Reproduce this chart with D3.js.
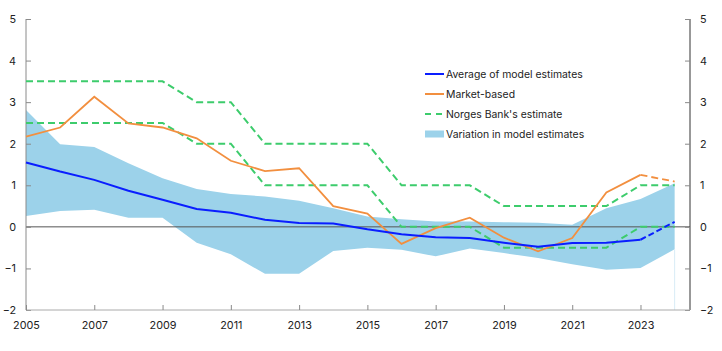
<!DOCTYPE html>
<html>
<head>
<meta charset="utf-8">
<script src="https://cdn.jsdelivr.net/npm/d3@7"></script>
<style>
  body { margin: 0; background: #fff; }
  text { font-family: Inter, "Noto Sans", sans-serif; }
</style>
</head>
<body>
<div id="wrapper"></div>
<script>
/// Data ///
const years = d3.range(2005, 2025);
const modelAvg = [1.55, 1.33, 1.13, 0.87, 0.65, 0.43, 0.34, 0.17, 0.09, 0.08, -0.06, -0.18, -0.25, -0.27, -0.38, -0.48, -0.39, -0.38, -0.31, 0.12];
const market = [2.17, 2.39, 3.13, 2.49, 2.39, 2.13, 1.59, 1.34, 1.41, 0.50, 0.32, -0.41, -0.03, 0.22, -0.26, -0.59, -0.27, 0.83, 1.25, 1.09];
const nbUpper = [3.5, 3.5, 3.5, 3.5, 3.5, 3.0, 3.0, 2.0, 2.0, 2.0, 2.0, 1.0, 1.0, 1.0, 0.5, 0.5, 0.5, 0.5, 1.0, 1.0];
const nbLower = [2.5, 2.5, 2.5, 2.5, 2.5, 2.0, 2.0, 1.0, 1.0, 1.0, 1.0, 0.0, 0.0, 0.0, -0.5, -0.5, -0.5, -0.5, 0.0, 0.0];
const bandUpper = [2.81, 1.99, 1.92, 1.53, 1.17, 0.91, 0.79, 0.73, 0.63, 0.45, 0.25, 0.18, 0.13, 0.13, 0.11, 0.10, 0.05, 0.45, 0.67, 1.05];
const bandLower = [0.26, 0.38, 0.41, 0.22, 0.22, -0.38, -0.66, -1.13, -1.13, -0.58, -0.50, -0.55, -0.71, -0.52, -0.63, -0.75, -0.90, -1.03, -0.99, -0.54];
const yTicks = [-2, -1, 0, 1, 2, 3, 4, 5];
const xTicks = [2005, 2007, 2009, 2011, 2013, 2015, 2017, 2019, 2021, 2023];
const legendItems = ["Average of model estimates", "Market-based", "Norges Bank's estimate", "Variation in model estimates"];

/// Dimensions ///
const width = 722;
const height = 351;
const margin = { top: 19, right: 32, bottom: 41, left: 26 };

const colBlue = '#0a1eff';
const colOrange = '#f28f3f';
const colGreen = '#3dcc6c';
const colBand = '#9cd2ea';
const colAxis = '#8a8a8a';

const svg = d3.select("#wrapper").append("svg")
  .attr("width", width)
  .attr("height", height);

/// Scales ///
const x = d3.scaleLinear()
  .domain([2005, 2024.45])
  .range([margin.left, width - margin.right]);
const y = d3.scaleLinear()
  .domain([-2, 5])
  .range([height - margin.bottom, margin.top]);

const rows = years.map((yr, i) => ({
  year: yr, avg: modelAvg[i], mkt: market[i], up: nbUpper[i], lo: nbLower[i],
  bu: bandUpper[i], bl: bandLower[i]
}));

/// Band ///
svg.append("path")
  .datum(rows)
  .attr("fill", colBand)
  .attr("d", d3.area().x(d => x(d.year)).y0(d => y(d.bl)).y1(d => y(d.bu)));

// faint edge at the end of the band
svg.append("line")
  .attr("x1", x(2024)).attr("x2", x(2024))
  .attr("y1", y(bandLower[bandLower.length - 1])).attr("y2", y(-2))
  .attr("stroke", "#d8ecf6").attr("stroke-width", 1);

/// Zero line ///
svg.append("line")
  .attr("x1", x(2005)).attr("x2", width - margin.right)
  .attr("y1", y(0)).attr("y2", y(0))
  .attr("stroke", "#555").attr("stroke-width", 1);

/// Axes ///
const leftAxis = svg.append("g")
  .attr("transform", `translate(${margin.left},0)`)
  .call(d3.axisLeft(y).tickValues(yTicks).tickSize(-5).tickPadding(10).tickFormat(d3.format("d")));
const rightAxis = svg.append("g")
  .attr("transform", `translate(${width - margin.right},0)`)
  .call(d3.axisRight(y).tickValues(yTicks).tickSize(-5).tickPadding(10).tickFormat(d3.format("d")));
const bottomAxis = svg.append("g")
  .attr("transform", `translate(0,${height - margin.bottom})`)
  .call(d3.axisBottom(x).tickValues(xTicks).tickSize(-5).tickPadding(11).tickFormat(d3.format("d")));

[leftAxis, rightAxis, bottomAxis].forEach(g => {
  g.select(".domain").attr("stroke", colAxis);
  g.selectAll(".tick line").attr("stroke", colAxis);
  g.selectAll("text").attr("font-size", 10.8).attr("fill", "#222");
});
leftAxis.select(".domain").attr("d", `M0,${y(5)}V${y(-2)}`);
rightAxis.select(".domain").attr("d", `M0,${y(5)}V${y(-2)}`).attr("stroke", "#333");
bottomAxis.select(".domain").attr("d", `M${margin.left},0H${width - margin.right}`).attr("stroke", "#aaa");
rightAxis.selectAll("text").attr("text-anchor", "start");

/// Lines ///
const lineGen = key => d3.line().x(d => x(d.year)).y(d => y(d[key]));

// Norges Bank's estimate
["up", "lo"].forEach(k => {
  svg.append("path")
    .datum(rows)
    .attr("fill", "none")
    .attr("stroke", colGreen)
    .attr("stroke-width", 2)
    .attr("stroke-dasharray", "7,4")
    .attr("d", lineGen(k));
});

const solid = rows.filter(d => d.year <= 2023);
const tail = rows.filter(d => d.year >= 2023);

// Market-based
svg.append("path").datum(solid)
  .attr("fill", "none").attr("stroke", colOrange).attr("stroke-width", 1.8)
  .attr("d", lineGen("mkt"));
svg.append("path").datum(tail)
  .attr("fill", "none").attr("stroke", colOrange).attr("stroke-width", 1.8)
  .attr("stroke-dasharray", "7,4")
  .attr("d", lineGen("mkt"));

// Average of model estimates
svg.append("path").datum(solid)
  .attr("fill", "none").attr("stroke", colBlue).attr("stroke-width", 2)
  .attr("d", lineGen("avg"));
svg.append("path").datum(tail)
  .attr("fill", "none").attr("stroke", colBlue).attr("stroke-width", 2)
  .attr("stroke-dasharray", "6,3")
  .attr("d", lineGen("avg"));

/// Legend ///
const legend = svg.append("g").attr("transform", "translate(425,74)");
legendItems.forEach((name, i) => {
  const g = legend.append("g").attr("transform", `translate(0,${i * 20})`);
  if (i === 0 || i === 1) {
    g.append("line").attr("x1", 0).attr("x2", 19).attr("y1", 0).attr("y2", 0)
      .attr("stroke", i === 0 ? colBlue : colOrange).attr("stroke-width", 2);
  } else if (i === 2) {
    g.append("line").attr("x1", 0).attr("x2", 19).attr("y1", 0).attr("y2", 0)
      .attr("stroke", colGreen).attr("stroke-width", 2).attr("stroke-dasharray", "6,5");
  } else {
    g.append("rect").attr("x", 0).attr("y", -3.5).attr("width", 19).attr("height", 7)
      .attr("fill", colBand);
  }
  g.append("text").attr("x", 21).attr("y", 0).attr("dy", "0.35em")
    .attr("font-size", 10.4).attr("fill", "#222").text(name);
});
</script>
</body>
</html>
